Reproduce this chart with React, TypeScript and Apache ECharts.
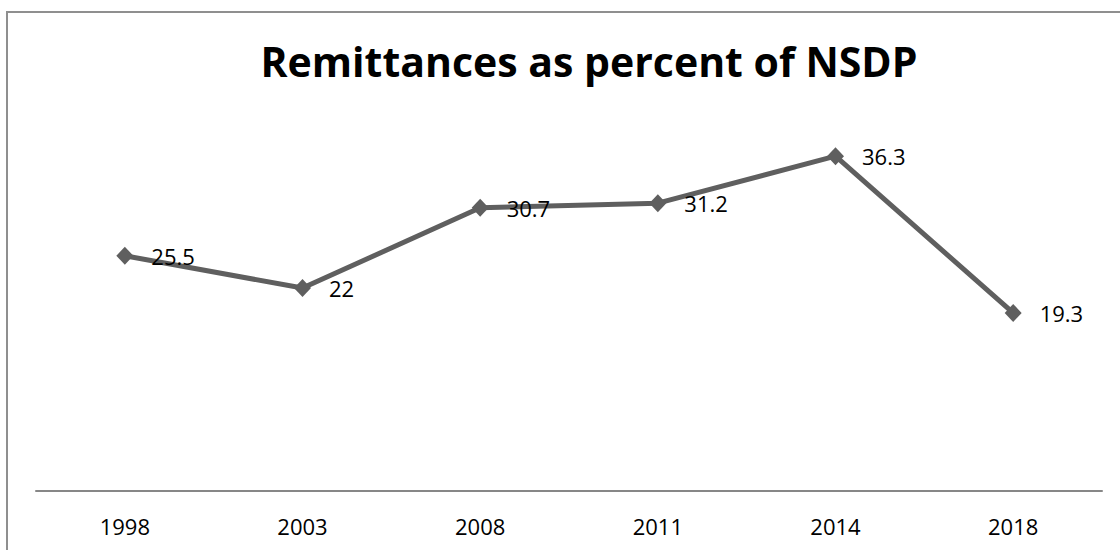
import React, { useEffect, useRef } from "react";
import * as echarts from "echarts";

const categories = ["1998", "2003", "2008", "2011", "2014", "2018"];
const values = [25.5, 22, 30.7, 31.2, 36.3, 19.3];
const titleText = "Remittances as percent of NSDP";

export default function App() {
  const ref = useRef<HTMLDivElement>(null);
  useEffect(() => {
    if (!ref.current) return;
    const chart = echarts.init(ref.current, null, { renderer: "svg" });
    chart.setOption({
      animation: false,
      backgroundColor: "#ffffff",
      title: {
        text: titleText,
        left: 584,
        top: 35,
        textAlign: "center",
        textStyle: {
          fontFamily: "Open Sans",
          fontWeight: "bold",
          fontSize: 41,
          color: "#000000",
        },
      },
      graphic: [
        {
          type: "rect",
          shape: { x: 7, y: 12, width: 1300, height: 700 },
          style: { fill: "none", stroke: "#8f8f8f", lineWidth: 2 },
          silent: true,
        },
      ],
      grid: { left: 36, right: 18, top: 122, bottom: 59 },
      xAxis: {
        type: "category",
        data: categories,
        boundaryGap: true,
        axisLine: { show: true, lineStyle: { color: "#878787", width: 2 } },
        axisTick: { show: false },
        axisLabel: {
          margin: 24,
          fontFamily: "Open Sans",
          fontSize: 22,
          color: "#000000",
        },
        splitLine: { show: false },
      },
      yAxis: {
        type: "value",
        min: 0,
        max: 40,
        show: false,
        splitLine: { show: false },
      },
      series: [
        {
          type: "line",
          data: values,
          symbol: "diamond",
          symbolSize: [17, 18],
          lineStyle: { color: "#5f5f5f", width: 5 },
          itemStyle: { color: "#5f5f5f" },
          label: {
            show: true,
            position: "right",
            distance: 18,
            fontFamily: "Open Sans",
            fontSize: 22,
            color: "#000000",
          },
        },
      ],
    });
    return () => chart.dispose();
  }, []);
  return (
    <div
      ref={ref}
      style={{ position: "fixed", left: 0, top: 0, width: 1120, height: 550 }}
    />
  );
}
